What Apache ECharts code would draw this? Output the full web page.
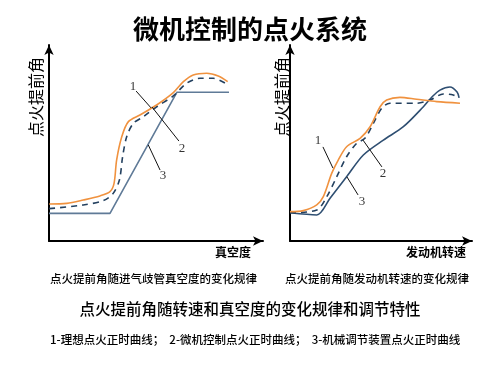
<!DOCTYPE html>
<html><head><meta charset="utf-8">
<script src="https://cdn.jsdelivr.net/npm/echarts@6/dist/echarts.min.js"></script>
<style>html,body{margin:0;padding:0;background:#fff}#c{width:500px;height:375px}</style>
</head><body><div id="c"></div>
<script>
// ---- Left chart: advance angle vs manifold vacuum (units 0-100) ----
const leftIdeal = [[0.1,18.9],[8.3,19.2],[16.0,20.9],[23.8,23.0],[28.5,25.2],[30.4,29.4],[31.6,41.3],[34.0,53.2],[37.1,60.9],[42.5,64.3],[50.3,69.4],[58.1,75.7],[62.8,81.3],[67.4,84.7],[73.7,85.6],[79.1,84.2],[83.5,81.3]];
const leftMicro = [[0.1,16.5],[16.0,18.4],[25.4,20.6],[30.0,24.3],[32.9,31.1],[34.4,43.0],[36.3,53.2],[39.4,60.0],[44.1,63.4],[50.3,68.5],[58.1,74.0],[64.3,80.5],[70.6,83.0],[76.8,83.0],[83.0,80.1]];
const leftMech = [[0,14.1],[28.5,14.1],[59.8,75.9],[84.1,75.9]];
// ---- Right chart: advance angle vs engine speed ----
const rightIdeal = [[0,15.0],[7.3,15.5],[14.7,18.4],[18.3,22.6],[22.9,34.5],[26.5,41.3],[31.1,48.1],[38.5,52.4],[44.0,58.3],[49.5,68.5],[53.1,71.9],[60.4,73.3],[69.6,72.3],[80.6,71.1],[93.4,70.3]];
const rightMicro = [[0,14.4],[14.7,15.8],[20.2,22.6],[25.7,32.8],[31.1,43.0],[36.6,49.8],[41.2,52.4],[45.8,60.0],[50.4,67.7],[54.9,70.3],[69.6,70.3],[76.9,71.9],[84.2,75.0],[89.7,74.5],[92.5,72.8]];
const rightMech = [[0,14.4],[14.7,13.3],[22.0,21.8],[31.1,32.8],[40.3,43.9],[51.3,51.5],[62.3,58.3],[73.3,68.5],[78.0,73.5],[82.4,77.0],[87.9,78.6],[91.8,76.0],[92.9,73.0]];
// leader lines and curve numbers
const leftLeaders = [[[40.7,76.5],[47.7,67.9]],[[60.7,51.0],[48.1,68.4]],[[51.9,36.2],[46.4,49.0]]];
const leftNums = [[39.3,78.6,'1'],[62.1,47.4,'2'],[53.3,33.2,'3']];
const rightLeaders = [[[18.1,48.0],[23.6,37.2]],[[50.5,37.8],[40.1,51.5]],[[37.4,23.5],[31.3,32.7]]];
const rightNums = [[15.4,51.0,'1'],[51.1,34.2,'2'],[39.6,19.9,'3']];

const texts = {
  title: '微机控制的点火系统',
  yName: '点火提前角',
  xLeft: '真空度',
  xRight: '发动机转速',
  capLeft: '点火提前角随进气歧管真空度的变化规律',
  capRight: '点火提前角随发动机转速的变化规律',
  main: '点火提前角随转速和真空度的变化规律和调节特性',
  legend: '1-理想点火正时曲线；  2-微机控制点火正时曲线；  3-机械调节装置点火正时曲线'
};

const CJK = '"Noto Sans CJK SC", sans-serif';
const ORANGE = '#F0923F', DASH = '#23405f', SOLID = '#5f7a97';

function axisPair(i){
  const line = {show:true, symbol:['none','arrow'], symbolSize:[7,10], lineStyle:{color:'#000', width:2}};
  return {
    x: {type:'value', gridIndex:i, min:0, max:100, axisLine:line, axisTick:{show:false}, axisLabel:{show:false}, splitLine:{show:false}},
    y: {type:'value', gridIndex:i, min:0, max:100, axisLine:line, axisTick:{show:false}, axisLabel:{show:false}, splitLine:{show:false}}
  };
}
const a0 = axisPair(0), a1 = axisPair(1);

function curve(data, idx, color, type, smooth){
  return {type:'line', xAxisIndex:idx, yAxisIndex:idx, data:data, symbol:'none', smooth:smooth, silent:true,
    lineStyle:{color:color, width:1.6, type:type}};
}
function leaders(list, idx){
  return list.map(seg => ({type:'line', xAxisIndex:idx, yAxisIndex:idx, data:seg, symbol:'none', silent:true,
    lineStyle:{color:'#111', width:1}}));
}
function nums(list, idx){
  return {type:'scatter', xAxisIndex:idx, yAxisIndex:idx, symbolSize:0, silent:true,
    data:list.map(d=>({value:[d[0],d[1]], label:{show:true, formatter:d[2], position:'inside', color:'#000', fontSize:13, fontFamily:'"Liberation Serif", serif'}}))};
}

const chart = echarts.init(document.getElementById('c'), null, {renderer:'canvas'});
chart.setOption({
  backgroundColor:'#fff',
  animation:false,
  title:[
    {text:texts.title, left:'center', top:16, padding:0, textStyle:{fontFamily:CJK, fontSize:26, fontWeight:'bold', color:'#000'}},
    {text:texts.capLeft, left:50, top:273, padding:0, textStyle:{fontFamily:CJK, fontSize:11.5, fontWeight:500, color:'#000'}},
    {text:texts.capRight, left:285, top:273, padding:0, textStyle:{fontFamily:CJK, fontSize:11.5, fontWeight:500, color:'#000'}},
    {text:texts.main, left:'center', top:301, padding:0, textStyle:{fontFamily:CJK, fontSize:15.5, fontWeight:500, color:'#000'}},
    {text:texts.legend, left:50, top:334, padding:0, textStyle:{fontFamily:CJK, fontSize:11.5, fontWeight:500, color:'#000'}}
  ],
  grid:[
    {left:49, top:45, width:214, height:196},
    {left:290, top:45, width:182, height:196}
  ],
  xAxis:[a0.x, a1.x],
  yAxis:[a0.y, a1.y],
  graphic:[
    {type:'text', x:36, y:97, rotation:Math.PI/2, style:{text:texts.yName, fontFamily:CJK, fontSize:16, fill:'#000', align:'center', verticalAlign:'middle'}},
    {type:'text', x:282, y:97, rotation:Math.PI/2, style:{text:texts.yName, fontFamily:CJK, fontSize:16, fill:'#000', align:'center', verticalAlign:'middle'}},
    {type:'text', x:251, y:252, style:{text:texts.xLeft, fontFamily:CJK, fontSize:12, fontWeight:'bold', fill:'#000', align:'right', verticalAlign:'middle'}},
    {type:'text', x:466, y:252, style:{text:texts.xRight, fontFamily:CJK, fontSize:12, fontWeight:'bold', fill:'#000', align:'right', verticalAlign:'middle'}}
  ],
  series:[
    curve(leftMech, 0, SOLID, 'solid', false),
    curve(leftMicro, 0, DASH, [6,5], 0.3),
    curve(leftIdeal, 0, ORANGE, 'solid', 0.3),
    ...leaders(leftLeaders, 0),
    nums(leftNums, 0),
    curve(rightMech, 1, '#2f4f72', 'solid', 0.3),
    curve(rightMicro, 1, DASH, [6,5], 0.3),
    curve(rightIdeal, 1, ORANGE, 'solid', 0.3),
    ...leaders(rightLeaders, 1),
    nums(rightNums, 1)
  ]
});
</script></body></html>
